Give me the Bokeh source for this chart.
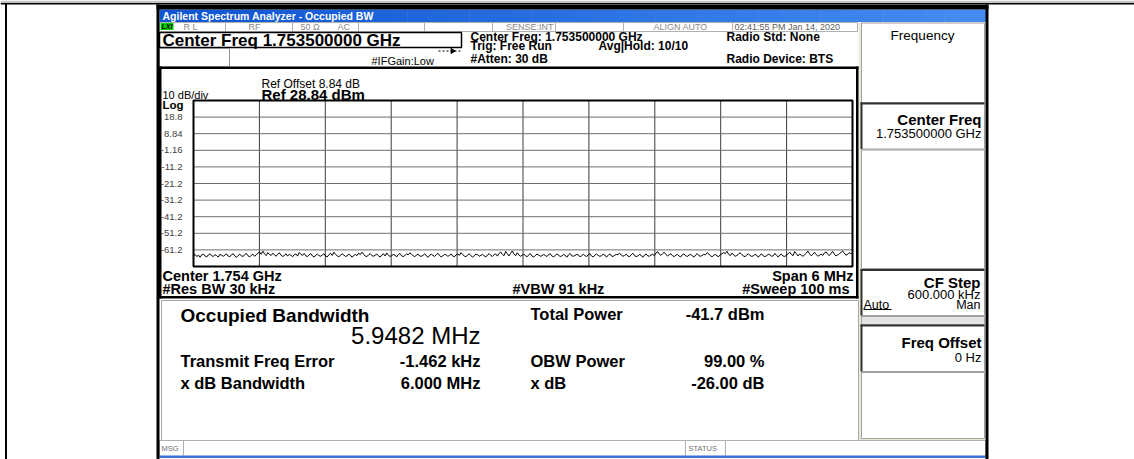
import numpy as np
from bokeh.plotting import figure
from bokeh.models import Range1d
from bokeh.core.properties import value
from bokeh.embed import file_html
from bokeh.resources import INLINE

# ---------------- data ----------------
center_freq_mhz = 1753.5
span_mhz = 6.0
n_xdiv = 10
ref_level_dbm = 28.84
db_per_div = 10
n_ydiv = 10
y_tick_values = [18.84, 8.84, -1.16, -11.16, -21.16, -31.16, -41.16, -51.16, -61.16]
y_tick_labels = ["18.8", "8.84", "-1.16", "-11.2", "-21.2", "-31.2", "-41.2", "-51.2", "-61.2"]
trace_db = [
    -64.8, -63.9, -65.2, -64.3, -65.6, -64.1, -63.7, -64.9, -65.4, -64.2, -63.5, -64.7, -65.1, -64.0, -64.6, -65.5, -63.8, -64.4, -65.0, -64.3,
    -63.6, -64.9, -65.3, -64.1, -63.4, -64.8, -65.7, -64.5, -63.9, -64.6, -65.2, -64.0, -63.3, -64.7, -65.4, -64.4, -63.8, -65.0, -64.2, -63.1,
    -62.4, -63.8, -61.9, -63.5, -64.6, -62.8, -63.9, -64.5, -63.2, -64.1, -65.0, -63.7, -62.9, -64.3, -65.1, -64.6, -63.5, -64.8, -63.9, -64.4,
    -65.3, -64.1, -63.6, -64.9, -62.7, -63.8, -64.5, -63.3, -64.7, -65.2, -64.0, -63.4, -64.8, -65.5, -64.3, -63.7, -64.6, -65.0, -64.2, -63.5,
    -64.9, -65.4, -64.0, -63.2, -64.5, -62.6, -63.9, -64.7, -65.3, -64.4, -63.6, -64.2, -65.1, -64.8, -63.7, -64.3, -65.6, -64.5, -63.9, -64.6,
    -63.1, -64.0, -62.5, -63.7, -64.9, -65.2, -64.1, -63.4, -64.6, -65.0, -64.3, -63.8, -64.7, -65.5, -64.2, -63.5, -64.8, -63.0, -64.4, -65.1,
    -64.6, -63.9, -64.3, -65.4, -64.0, -63.3, -64.7, -65.2, -64.5, -63.6, -64.1, -62.9, -63.8, -64.6, -65.3, -64.2, -63.7, -64.9, -65.0, -64.4,
    -63.5, -64.8, -65.6, -64.3, -63.8, -64.5, -65.1, -64.0, -63.2, -64.6, -65.4, -64.7, -63.9, -64.2, -65.0, -64.5, -63.6, -64.9, -65.3, -64.1,
    -63.7, -64.4, -62.8, -64.0, -64.9, -65.2, -64.3, -63.5, -64.7, -65.5, -64.6, -63.8, -64.1, -65.0, -64.4, -63.9, -64.8, -65.4, -64.2, -63.4,
    -64.5, -65.1, -64.0, -63.6, -64.9, -63.3, -62.4, -63.9, -64.6, -62.1, -63.5, -64.8, -63.2, -61.8, -63.6, -64.7, -62.9, -64.2, -65.0, -64.3,
    -63.8, -64.6, -65.3, -64.1, -63.4, -64.9, -65.5, -64.4, -63.7, -64.2, -65.0, -64.7, -63.9, -64.5, -65.2, -64.0, -63.5, -64.8, -65.4, -64.6,
    -63.6, -64.3, -65.1, -64.9, -63.8, -64.4, -65.6, -64.2, -63.3, -64.7, -65.0, -64.5, -63.9, -64.1, -65.3, -64.8, -63.7, -64.6, -65.2, -64.0,
    -63.4, -64.9, -65.4, -64.3, -63.6, -64.5, -65.0, -64.7, -63.8, -64.2, -65.5, -64.6, -63.5, -64.8, -65.1, -64.4, -63.9, -64.0, -63.1, -64.3,
    -65.0, -64.5, -63.7, -64.9, -65.3, -64.1, -63.2, -64.6, -65.2, -64.8, -63.9, -64.4, -65.6, -64.3, -63.6, -64.7, -65.0, -64.2, -63.8, -64.5,
    -63.0, -62.3, -63.7, -64.5, -63.4, -62.6, -63.9, -64.8, -64.1, -63.5, -64.6, -65.2, -64.4, -63.8, -64.9, -65.4, -64.0, -63.6, -64.7, -65.1,
    -64.3, -63.7, -64.8, -65.5, -64.2, -63.4, -64.6, -65.0, -64.5, -63.9, -64.1, -62.8, -63.6, -64.7, -65.3, -64.4, -63.8, -64.9, -65.2, -64.0,
    -63.5, -62.7, -63.4, -62.0, -63.8, -64.6, -63.1, -64.2, -65.0, -64.5, -63.7, -62.9, -64.0, -64.8, -65.3, -64.1, -63.6, -64.5, -65.1, -64.7,
    -63.9, -64.4, -65.6, -64.3, -63.5, -64.8, -65.2, -64.6, -63.8, -64.1, -65.0, -64.7, -63.3, -64.5, -65.4, -64.2, -63.7, -64.9, -65.1, -64.4,
    -63.6, -62.5, -63.9, -64.6, -62.2, -63.4, -64.8, -63.7, -64.3, -65.0, -64.1, -63.2, -61.9, -63.5, -64.7, -63.8, -62.6, -64.0, -64.9, -64.4,
    -63.7, -64.5, -63.0, -62.4, -63.8, -64.6, -63.3, -62.1, -63.6, -64.8, -64.2, -63.5, -62.7, -61.8, -63.1, -64.3, -63.9, -62.8, -63.4, -63.0,
]
result_names_left = ["Transmit Freq Error", "x dB Bandwidth"]
result_values_left = ["-1.462 kHz", "6.000 MHz"]
result_names_right = ["Total Power", "OBW Power", "x dB"]
result_values_right = ["-41.7 dBm", "99.00 %", "-26.00 dB"]
occupied_bw_text = "5.9482 MHz"

# ---------------- canvas ----------------
W, H = 1134, 459
OX, OY = 0, 0
FONT = value("Liberation Sans")

p = figure(width=W, height=H, x_range=Range1d(OX, OX + W), y_range=Range1d(OY + H, OY),
           x_axis_type=None, y_axis_type=None, toolbar_location=None,
           output_backend="svg", min_border=0)
p.outline_line_color = None
p.background_fill_color = "white"
p.border_fill_color = "white"

# grid placement (page px)
GX0, GX1, GY0, GY1 = 193, 852, 100, 266
f_lo = center_freq_mhz - span_mhz / 2
f_hi = center_freq_mhz + span_mhz / 2
db_top = ref_level_dbm
db_bot = ref_level_dbm - db_per_div * n_ydiv
mpp = span_mhz / (GX1 - GX0)
dpp = (db_top - db_bot) / (GY1 - GY0)
p.extra_x_ranges = {"f": Range1d(f_lo + (OX - GX0) * mpp, f_lo + (OX + W - GX0) * mpp)}
p.extra_y_ranges = {"db": Range1d(db_top - (OY + H - GY0) * dpp, db_top + (GY0 - OY) * dpp)}


def box(x0, y0, x1, y1, fill=None, line=None, lw=1):
    p.quad(left=[x0], right=[x1], top=[y0], bottom=[y1], fill_color=fill,
           line_color=line, line_width=lw)


def seg(x0, y0, x1, y1, color="black", lw=1, dash="solid"):
    p.segment(x0=[x0], y0=[y0], x1=[x1], y1=[y1], line_color=color, line_width=lw, line_dash=dash)


def txt(x, y, s, size, bold=False, color="black", align="left", style=None):
    p.text(x=[x], y=[y], text=[s], text_font=FONT, text_font_size=f"{size}px",
           text_font_style=style or ("bold" if bold else "normal"), text_color=color,
           text_align=align, text_baseline="middle")


# outer page frame
box(0, 0, W, 2.5, fill="#c4c4c4")
box(0, 2.5, W, 4, fill="black")
box(4.5, 3, 6.5, H, fill="black")

# screenshot base
box(156, 4, 988, 460, fill="white")
box(858, 22, 985, 440, fill="#ece9d8")

# title bar gradient
n = 40
for i in range(n):
    t = i / (n - 1)
    r = int(0x10 + t * (0x45 - 0x10)); g = int(0x55 + t * (0x8c - 0x55)); b = int(0xd2 + t * (0xf2 - 0xd2))
    x0 = 159 + (985 - 159) * i / n
    x1 = 159 + (985 - 159) * (i + 1) / n + 0.5
    p.quad(left=[x0], right=[x1], top=[9], bottom=[21.5], fill_color=f"#{r:02x}{g:02x}{b:02x}", line_color=None)
txt(162, 15.5, "Agilent Spectrum Analyzer - Occupied BW", 10.5, bold=True, color="white")

# status row
box(159, 22, 857, 31, fill="white", line="#b0b0b0")
for xs in [225, 292, 358, 424, 492, 555, 623, 732]:
    seg(xs, 22, xs, 31, color="#b0b0b0")
box(160, 22.5, 173, 29.5, fill="#00d000")
txt(161, 26.2, "LXI", 7, color="black", style="bold italic")
stat_color = "#8a8a8a"
txt(183, 26.5, "R L", 9, color=stat_color)
txt(248, 26.5, "RF", 9, color=stat_color)
txt(300, 26.5, "50 Ω", 9, color=stat_color)
txt(337, 26.5, "AC", 9, color=stat_color)
txt(553, 26.5, "SENSE:INT", 9, color=stat_color, align="right")
txt(653, 26.5, "ALIGN AUTO", 9, color=stat_color)
txt(734, 26.5, "02:41:55 PM Jan 14, 2020", 9, color="#606060")

# center freq box + row 3
box(159, 32, 461, 47, fill="white", line="black", lw=1.5)
txt(162, 39.5, "Center Freq 1.753500000 GHz", 17, bold=True)
box(159, 48, 229, 66, fill="white", line="#909090")
txt(371, 60.5, "#IFGain:Low", 11)
seg(438, 50.5, 460, 50.5, color="black", lw=1, dash="2 2")
p.scatter(x=[452], y=[50.5], marker="triangle", size=5, angle=-np.pi / 2, color="black")

txt(470, 36.5, "Center Freq: 1.753500000 GHz", 12, bold=True)
txt(470, 45.5, "Trig: Free Run", 12, bold=True)
txt(470, 58.5, "#Atten: 30 dB", 12, bold=True)
txt(598, 45, "Avg|Hold: 10/10", 12, bold=True)
txt(726, 36.5, "Radio Std: None", 12, bold=True)
txt(726, 58.5, "Radio Device: BTS", 12, bold=True)

# graph frame
box(158, 66, 858, 298, fill="white")
box(158, 66, 858, 68.5, fill="black")
box(158, 66, 161, 298, fill="black")
box(855.5, 66, 858, 298, fill="black")
box(158, 295.5, 858, 298, fill="black")

txt(261, 83.5, "Ref Offset 8.84 dB", 12)
txt(261, 93.5, "Ref 28.84 dBm", 15, bold=True)
txt(162, 94, "10 dB/div", 11)
txt(162, 104, "Log", 11.5, bold=True)

# grid via data scales
xdiv = [f_lo + span_mhz * k / n_xdiv for k in range(1, n_xdiv)]
p.segment(x0=xdiv, y0=[db_bot] * len(xdiv), x1=xdiv, y1=[db_top] * len(xdiv),
          x_range_name="f", y_range_name="db", line_color="#3a3a3a", line_width=1)
p.segment(x0=[f_lo] * len(y_tick_values), y0=y_tick_values, x1=[f_hi] * len(y_tick_values),
          y1=y_tick_values, x_range_name="f", y_range_name="db", line_color="#6e6e6e", line_width=1)
p.quad(left=[f_lo], right=[f_hi], top=[db_top], bottom=[db_bot], x_range_name="f",
       y_range_name="db", fill_color=None, line_color="black", line_width=2)
p.text(x=[182] * len(y_tick_values), y=y_tick_values, text=y_tick_labels, y_range_name="db",
       text_font=FONT, text_font_size="9.5px", text_color="#404040", text_align="right",
       text_baseline="middle")

trace_x = np.linspace(f_lo, f_hi, len(trace_db))
p.line(x=trace_x, y=trace_db, x_range_name="f", y_range_name="db", line_color="black", line_width=1)

txt(162, 275, "Center  1.754 GHz", 14.5, bold=True)
txt(162, 288, "#Res BW  30 kHz", 14.5, bold=True)
txt(512, 288, "#VBW  91 kHz", 14.5, bold=True)
txt(853, 275, "Span 6 MHz", 14.5, bold=True, align="right")
txt(853, 288, "#Sweep  100 ms", 14.5, bold=True, align="right")

# results panel
box(161, 300, 858, 440, fill="white", line="#a8a8a8")
txt(180, 315, "Occupied Bandwidth", 19, bold=True)
txt(480, 335, occupied_bw_text, 24, align="right")
row_y = [360, 382]
for yy, nm, vv in zip(row_y, result_names_left, result_values_left):
    txt(180, yy, nm, 16.5, bold=True)
    txt(480, yy, vv, 16.5, bold=True, align="right")
row_y2 = [313, 360, 382]
for yy, nm, vv in zip(row_y2, result_names_right, result_values_right):
    txt(530, yy, nm, 16.5, bold=True)
    txt(764, yy, vv, 16.5, bold=True, align="right")

# status bar
box(159, 440, 985, 457, fill="white", line="#b0b0b0")
seg(183, 440, 183, 455, color="#b0b0b0")
seg(685, 440, 685, 455, color="#b0b0b0")
seg(725, 440, 725, 455, color="#b0b0b0")
box(159, 455, 985, 457.5, fill="#3d6fd6")
txt(161, 448, "MSG", 7.5, color="#707070")
txt(688, 448, "STATUS", 7.5, color="#707070")

# softkeys
def softkey(y0, y1, dark=False, fill="white"):
    box(861, y0, 984, y1, fill=fill, line="#a0a0a0")
    if dark:
        box(860, y0 - 0.5, 984, y0 + 1.5, fill="#303030")
        box(860, y0 - 0.5, 862, y1, fill="#303030")

softkey(22.5, 102)
softkey(102.5, 148.5, dark=True)
softkey(149.5, 268)
softkey(269, 315, dark=True)
softkey(316, 324, fill="#e4e4e4")
softkey(324.5, 371, dark=True)
softkey(372, 438)
txt(922, 34.5, "Frequency", 13.5, align="center")
txt(981, 118.5, "Center Freq", 15, bold=True, align="right")
txt(981, 133, "1.753500000 GHz", 13, align="right")
txt(980, 281.5, "CF Step", 15, bold=True, align="right")
txt(980, 293.5, "600.000 kHz", 13, align="right")
txt(863, 304.5, "Auto", 12.5)
seg(863, 309, 891, 309, color="black")
txt(980, 304.5, "Man", 12.5, align="right")
txt(981, 341.5, "Freq Offset", 15, bold=True, align="right")
txt(981, 356.5, "0 Hz", 13, align="right")

# screenshot borders
box(156, 4, 159, 460, fill="black")
box(985, 4, 988, 460, fill="black")
box(156, 4, 988, 9, fill="black")

open("out.html", "w").write(file_html(p, INLINE))
